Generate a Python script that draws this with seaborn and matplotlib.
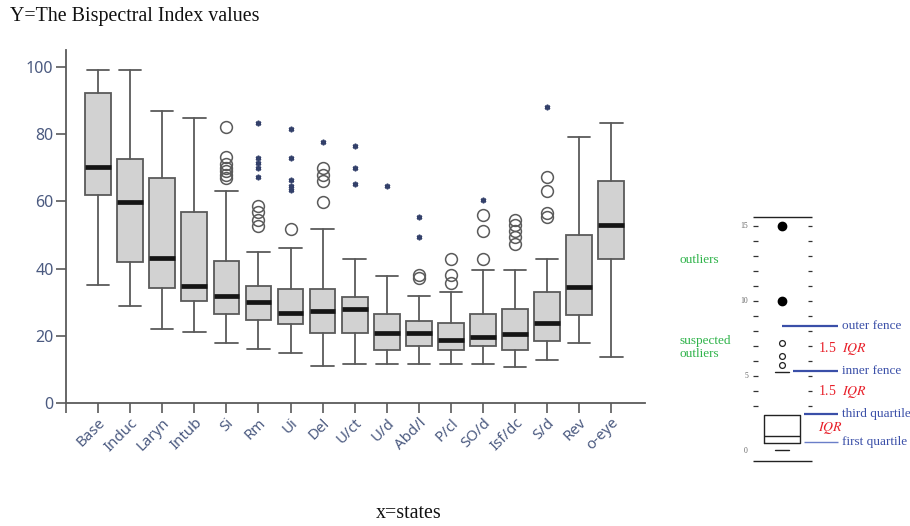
import numpy as np
import matplotlib
matplotlib.use("Agg")
import matplotlib.pyplot as plt
import seaborn as sns

# five-number summaries, one entry per state
states = ["Base", "Induc", "Laryn", "Intub", "Si", "Rm", "Ui", "Del", "U/ct",
          "U/d", "Abd/l", "P/cl", "SO/d", "Isf/dc", "S/d", "Rev", "o-eye"]
whis_lo = [35, 29, 22, 21, 18, 16, 15, 11, 11.6, 11.6, 11.6, 11.6, 11.6, 10.6, 12.8, 18, 13.8]
q1 = [62, 42, 34.2, 30.5, 26.5, 24.6, 23.6, 20.8, 20.7, 15.8, 17, 15.8, 17, 15.8, 18.6, 26.2, 42.9]
median = [70.3, 59.7, 43.1, 34.7, 31.9, 30, 26.7, 27.5, 27.9, 20.7, 20.7, 18.8, 19.7, 20.5, 23.7, 34.6, 53]
q3 = [92.4, 72.5, 67.1, 56.7, 42.3, 34.7, 33.9, 33.9, 31.6, 26.5, 24.5, 23.7, 26.5, 28, 32.9, 50, 66.2]
whis_hi = [99, 99, 86.9, 84.9, 63.2, 44.8, 46, 51.8, 42.9, 37.9, 31.9, 32.9, 39.6, 39.6, 42.9, 79.1, 83.4]

# suspected outliers (open circles) and extreme outliers (stars)
circle_out = [[], [], [], [], [82, 73.3, 71, 70, 69, 68, 67], [58.7, 56.7, 54.5, 52.7], [51.8],
              [69.8, 67.8, 66.1, 59.7], [], [], [38.1, 37.1], [43, 38.1, 35.6], [56, 51.3, 43],
              [54.5, 53, 51.3, 49.5, 47.3], [67.2, 63.1, 56.4, 55.5], [], []]
star_out = [[], [], [], [], [], [83.2, 72.8, 71.5, 69.8, 67.3], [81.4, 72.8, 66.3, 64.7, 63.4],
            [77.7], [76.5, 70, 65.1], [64.6], [55.5, 49.5], [], [60.4], [], [88.2], [], []]

y_ticks = [0, 20, 40, 60, 80, 100]

# schematic box (inset), in tick steps
demo_stats = dict(whislo=0.07, q1=0.5, med=1.0, q3=2.4, whishi=5.25)
demo_suspected = [5.7, 6.3, 7.2]
demo_outliers = [10, 15]
demo_tick_steps = list(range(3, 16))
demo_labels = {15: "15", 10: "10", 5: "5", 0: "0"}

sns.set_theme(style="ticks")
plt.rcParams['font.family'] = ['Noto Sans', 'DejaVu Sans']
plt.rcParams['mathtext.fontset'] = 'stix'

fig = plt.figure(figsize=(9.1, 5.26), dpi=100)
ax = fig.add_axes([66 / 910, 1 - 403 / 526, (645 - 66) / 910, (403 - 50) / 526])

edge = "#5a5a5a"
label_col = "#4b5a80"

stats = []
for i, s in enumerate(states):
    stats.append(dict(label=s, whislo=whis_lo[i], q1=q1[i], med=median[i],
                      q3=q3[i], whishi=whis_hi[i], fliers=[]))

ax.bxp(stats, positions=range(len(states)), widths=0.8, capwidths=0.7,
       showfliers=False, patch_artist=True,
       boxprops=dict(facecolor="#d2d2d2", edgecolor=edge, linewidth=1.3),
       medianprops=dict(color="#151515", linewidth=3.4),
       whiskerprops=dict(color=edge, linewidth=1.3),
       capprops=dict(color=edge, linewidth=1.3))

for i in range(len(states)):
    if circle_out[i]:
        ax.plot([i] * len(circle_out[i]), circle_out[i], ls="none", marker="o",
                ms=8.5, mfc="none", mec=edge, mew=1.1)
    if star_out[i]:
        ax.plot([i] * len(star_out[i]), star_out[i], ls="none", marker=(6, 2, 0),
                ms=4, mec="#33406a", mew=1.2)

ax.set_xlim(-1, 17.05)
ax.set_ylim(0, 105.06)
ax.set_yticks(y_ticks)
ax.set_yticklabels([str(v) for v in y_ticks], color=label_col, fontsize=11.5)
ax.set_xticks([-1] + list(range(len(states))))
ax.set_xticklabels([""] + states, rotation=45, ha="right", rotation_mode="anchor",
                   color=label_col, fontsize=10.8)
ax.tick_params(axis="both", direction="out", length=7, width=1.2, color=edge, pad=2)
for side in ["left", "bottom"]:
    ax.spines[side].set_color(edge)
    ax.spines[side].set_linewidth(1.3)
sns.despine(ax=ax)

fig.text(10 / 910, 1 - 16 / 526, "Y=The Bispectral Index values", family="Liberation Serif",
         fontsize=14.4, va="center", ha="left", color="#111111")
fig.text(409 / 910, 1 - 514 / 526, "x=states", family="Liberation Serif",
         fontsize=14.4, va="center", ha="center", color="#111111")

# inset: box plot anatomy
ins = fig.add_axes([660 / 910, 1 - 475 / 526, 250 / 910, 275 / 526])
ins.set_xlim(-122, 128)
ins.set_ylim(-1.6, 16.73)
ins.axis("off")

ins.hlines([15.6, -0.7], -29.3, 30.3, color="#222222", lw=1)
ins.hlines(demo_tick_steps, -29.3, -23.7, color="#333333", lw=0.9)
ins.hlines(demo_tick_steps, 25.7, 30.3, color="#333333", lw=0.9)
for step, lab in demo_labels.items():
    ins.text(-34, step, lab, family="Liberation Serif", fontsize=5.5, color="#666666",
             ha="right", va="center")

ins.bxp([dict(demo_stats, fliers=[])], positions=[0], widths=35.7, capwidths=14,
        showfliers=False,
        boxprops=dict(color="#222222", linewidth=1),
        medianprops=dict(color="#222222", linewidth=1),
        whiskerprops=dict(linewidth=0),
        capprops=dict(color="#222222", linewidth=1))
ins.plot([0] * len(demo_outliers), demo_outliers, ls="none", marker="o", ms=6, color="black")
ins.plot([0] * len(demo_suspected), demo_suspected, ls="none", marker="o", ms=4.2,
         mfc="white", mec="#222222", mew=0.9)

blue = "#3a4fa8"
red = "#e8202a"
green = "#2fb34a"
serif = "Liberation Serif"
ins.hlines(8.3, 0.3, 56.3, color=blue, lw=1.6)
ins.hlines(5.3, 11.3, 56.3, color=blue, lw=1.6)
ins.hlines(2.45, 22, 56.3, color=blue, lw=1.6)
ins.hlines(0.58, 22, 56.3, color="#6a7ec8", lw=1)
ins.text(59.7, 8.3, "outer fence", family=serif, fontsize=9.5, color=blue, va="center")
ins.text(59.7, 5.3, "inner fence", family=serif, fontsize=9.5, color=blue, va="center")
ins.text(59.7, 2.45, "third quartile", family=serif, fontsize=9.5, color=blue, va="center")
ins.text(59.7, 0.58, "first quartile", family=serif, fontsize=9.5, color=blue, va="center")
ins.text(35.5, 6.8, r"1.5  $IQR$", family=serif, fontsize=10, color=red, va="center")
ins.text(35.5, 3.95, r"1.5  $IQR$", family=serif, fontsize=10, color=red, va="center")
ins.text(36.5, 1.5, r"$IQR$", family=serif, fontsize=10, color=red, va="center")
ins.text(-103, 12.7, "outliers", family=serif, fontsize=9.5, color=green, va="center")
ins.text(-103, 6.9, "suspected\noutliers", family=serif, fontsize=9.5, color=green,
         va="center", linespacing=1.2)

fig.savefig("out.png", dpi=100, facecolor="white")
